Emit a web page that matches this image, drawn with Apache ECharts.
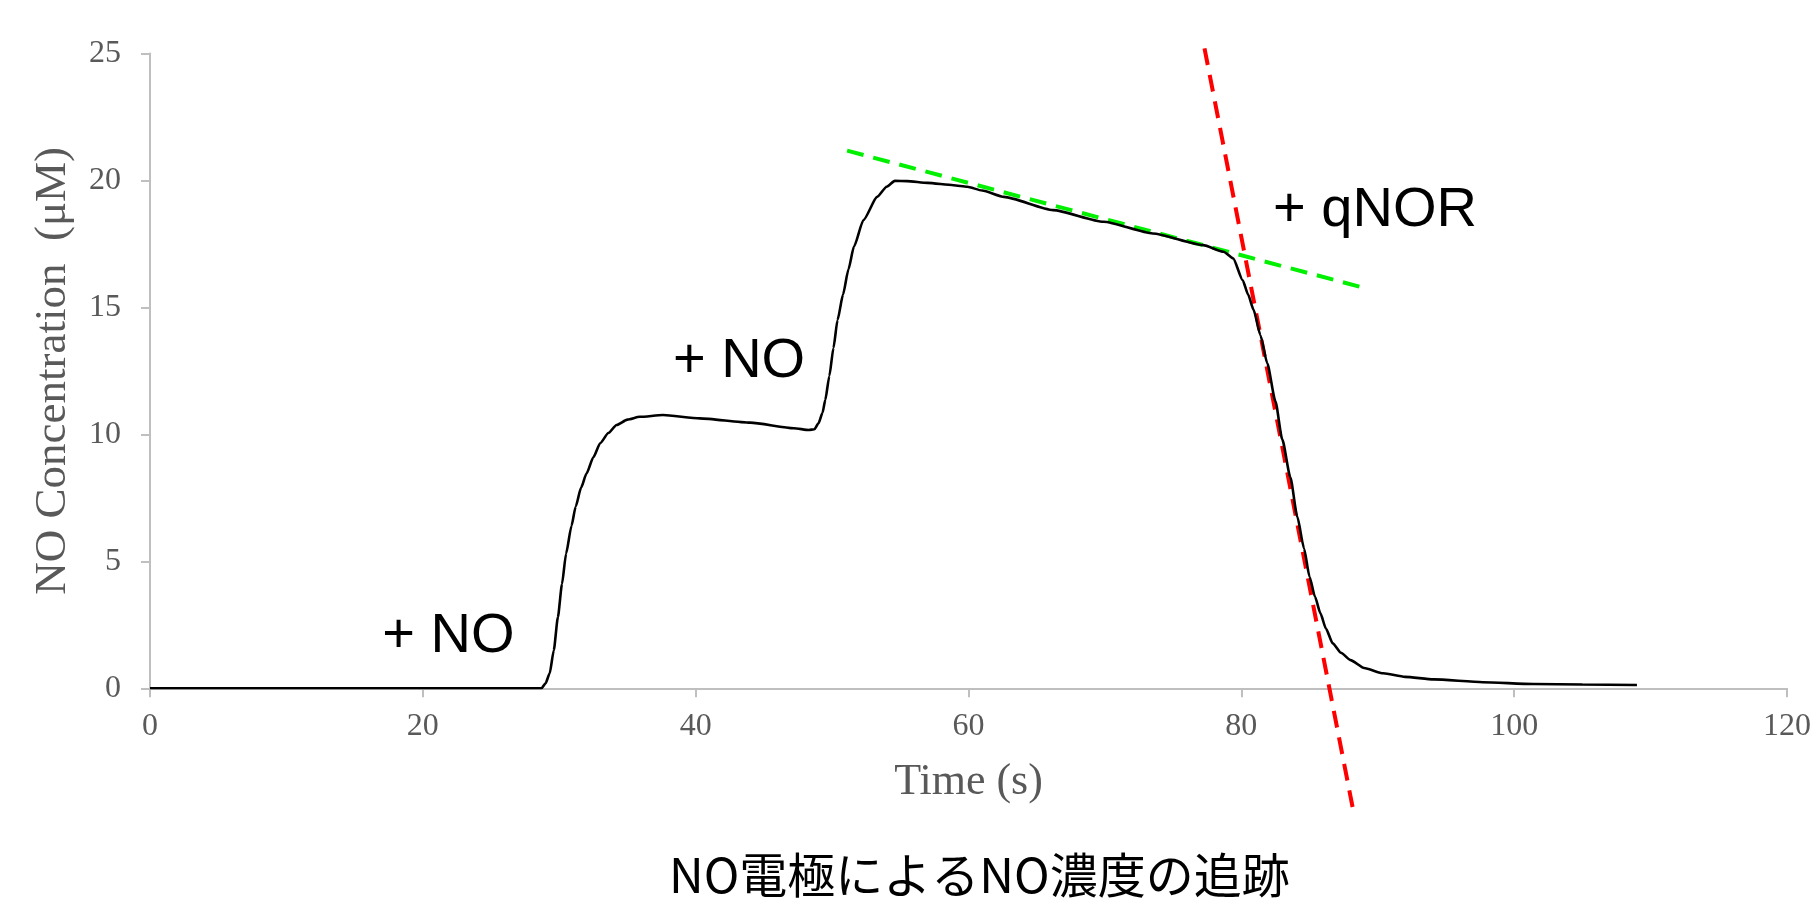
<!DOCTYPE html>
<html>
<head>
<meta charset="utf-8">
<script src="https://cdn.jsdelivr.net/npm/echarts@6/dist/echarts.min.js"></script>
<style>
html,body{margin:0;padding:0;background:#fff;}
#c{width:1817px;height:906px;}
</style>
</head>
<body>
<div id="c"></div>
<script>
// ---- data ----
const timeS = [0, 10, 20, 28.0, 28.7, 29.0, 29.3, 29.6, 29.9, 30.2, 30.5, 30.9, 31.2, 31.6, 32.0, 32.5, 33.0, 33.6, 34.2, 35.0, 35.9, 37.6, 40.3, 44.0, 47.2, 48.3, 48.7, 49.0, 49.3, 49.5, 49.8, 50.1, 50.4, 50.8, 51.2, 51.6, 52.3, 53.3, 54.0, 54.6, 55.5, 57.0, 58.9, 59.9, 61.0, 62.6, 66.2, 69.9, 73.5, 77.2, 78.7, 79.4, 80.1, 80.5, 80.9, 81.4, 81.9, 82.5, 83.0, 83.6, 84.1, 84.6, 85.0, 85.4, 85.8, 86.2, 86.7, 87.3, 88.0, 89.0, 90.4, 92.0, 94.1, 97.7, 101.4, 105.0, 109.0];
const concUM = [0, 0, 0, 0, 0, 0.2, 0.59, 1.5, 2.8, 4.1, 5.3, 6.4, 7.15, 7.9, 8.46, 9.1, 9.65, 10.05, 10.37, 10.58, 10.69, 10.76, 10.63, 10.46, 10.24, 10.17, 10.2, 10.43, 10.85, 11.35, 12.3, 13.4, 14.5, 15.5, 16.5, 17.39, 18.44, 19.35, 19.75, 19.98, 19.97, 19.9, 19.81, 19.75, 19.6, 19.35, 18.83, 18.37, 17.91, 17.45, 17.19, 16.93, 16.07, 15.5, 14.9, 13.9, 12.8, 11.3, 9.8, 8.3, 6.76, 5.5, 4.39, 3.6, 2.95, 2.35, 1.77, 1.4, 1.11, 0.8, 0.59, 0.45, 0.35, 0.24, 0.17, 0.15, 0.13];

// green tangent (slow decay) and red tangent (qNOR decay) end points
const greenX = [51.1, 89.2];
const greenY = [21.17, 15.74];
const redX = [77.3, 88.2];
const redY = [25.2, -4.8];

// axis ticks
const xTicks = {min: 0, max: 120, interval: 20};
const yTicks = {min: 0, max: 25, interval: 5};

// annotations [x, y, text]
const notes = [
  [21.87, 2.02, '+ NO'],
  [43.18, 12.86, '+ NO'],
  [89.8, 18.83, '+ qNOR']
];

const xAxisName = 'Time (s)';
const yAxisName = 'NO Concentration  (\u03bcM)';
const titleText = 'NO電極によるNO濃度の追跡';

// ---- build ----
const zip = (a, b) => a.map((v, i) => [v, b[i]]);
const axisGrey = '#bfbfbf';
const labelGrey = '#595959';
const serif = '"Liberation Serif", "Times New Roman", serif';

const chart = echarts.init(document.getElementById('c'), null, {renderer: 'canvas'});
chart.setOption({
  animation: false,
  backgroundColor: '#ffffff',
  graphic: [{
    type: 'text', left: 979 - 310, top: 851,
    style: {text: titleText, font: 'normal 48px "Noto Sans CJK JP", sans-serif', fill: '#000'}
  }],
  grid: {left: 150, right: 30, top: 53.4, bottom: 217.7, containLabel: false},
  xAxis: {
    type: 'value', min: xTicks.min, max: xTicks.max, interval: xTicks.interval,
    name: xAxisName, nameLocation: 'middle', nameGap: 72,
    nameTextStyle: {fontFamily: serif, fontSize: 44, color: labelGrey},
    axisLine: {show: true, lineStyle: {color: axisGrey, width: 2}},
    axisTick: {show: true, inside: false, length: 9, lineStyle: {color: axisGrey, width: 2}},
    axisLabel: {margin: 22, fontFamily: serif, fontSize: 32, color: labelGrey},
    splitLine: {show: false}
  },
  yAxis: {
    type: 'value', min: yTicks.min, max: yTicks.max, interval: yTicks.interval,
    name: yAxisName, nameLocation: 'middle', nameGap: 74, nameRotate: 90,
    nameTextStyle: {fontFamily: serif, fontSize: 45, color: labelGrey},
    axisLine: {show: true, lineStyle: {color: axisGrey, width: 2}},
    axisTick: {show: true, inside: false, length: 9, lineStyle: {color: axisGrey, width: 2}},
    axisLabel: {margin: 29, fontFamily: serif, fontSize: 32, color: labelGrey},
    splitLine: {show: false}
  },
  series: [
    {
      name: 'green', type: 'line', data: zip(greenX, greenY), showSymbol: false, silent: true, clip: false,
      lineStyle: {color: '#00f000', width: 4, type: [17, 10]}, z: 2
    },
    {
      name: 'red', type: 'line', data: zip(redX, redY), showSymbol: false, silent: true, clip: false,
      lineStyle: {color: '#ff0000', width: 4, type: [17, 10]}, z: 2
    },
    {
      name: 'NO', type: 'line', data: zip(timeS, concUM), showSymbol: false, smooth: 0.2, smoothMonotone: 'x',
      lineStyle: {color: '#000', width: 2.6}, z: 3,
      markPoint: {
        symbol: 'rect', symbolSize: 1, itemStyle: {color: 'rgba(0,0,0,0)'},
        label: {show: true, position: 'inside', fontFamily: '"Liberation Sans", Arial, sans-serif', fontSize: 56, color: '#000',
          formatter: p => p.name},
        data: notes.map(n => ({coord: [n[0], n[1]], name: n[2]}))
      }
    }
  ]
});
</script>
</body>
</html>
